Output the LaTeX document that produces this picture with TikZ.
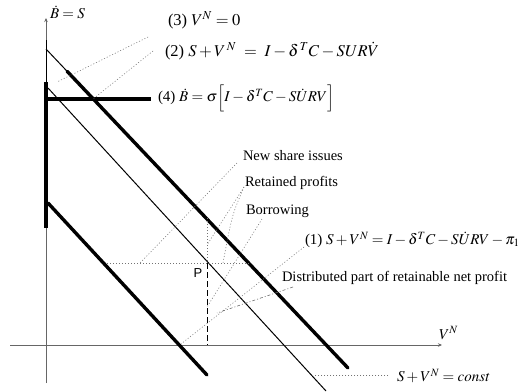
\documentclass[tikz,border=0pt]{standalone}
\usepackage{mathptmx}
\usepackage{fontspec}
\setmainfont{Liberation Serif}
\setsansfont{Liberation Sans}
\usetikzlibrary{arrows.meta,calc}
\begin{document}
\begin{tikzpicture}[x=1pt,y=-1pt,
  every node/.style={inner sep=0pt, outer sep=0pt, font=\fontsize{14.5}{17}\selectfont},
  eq/.style={anchor=west, font=\fontsize{15}{18}\selectfont},
  bigeq/.style={anchor=west, font=\fontsize{16.5}{19}\selectfont},
  axis/.style={draw=black!60, line width=0.7pt},
  axarrow/.style={-{Stealth[length=4pt,width=3.5pt]}},
  thickline/.style={line width=3.4pt},
  thinline/.style={line width=1pt},
  leader/.style={draw=black!55, line width=0.55pt, dash pattern=on 1pt off 2pt},
  dashdotleader/.style={draw=black!60, line width=0.55pt, dash pattern=on 3pt off 2pt on 1pt off 2pt},
  dashline/.style={draw=black, line width=0.7pt, dash pattern=on 6pt off 3pt},
  lbl/.style={anchor=west},
]
\useasboundingbox (0,0) rectangle (522,391);
\fill[white] (0,0) rectangle (522,391);

% axes
\coordinate (ybot) at (46,383);
\coordinate (ytop) at (46,18);
\coordinate (xleft) at (10,345);
\coordinate (xright) at (442,345);
\draw[axis,axarrow] (ybot) -- (ytop);
\draw[axis,axarrow] (xleft) -- (xright);

% line (3): V^N = 0
\coordinate (v1) at (46,40);
\coordinate (v2) at (46,82);
\coordinate (v3) at (46,228);
\draw[thinline] (v1) -- (v2);
\draw[thickline] (v2) -- (v3);

% line (4)
\coordinate (h1) at (46,99);
\coordinate (h2) at (151,99);
\draw[thickline] (h1) -- (h2);

% line (2)
\coordinate (a1) at (46,49);
\coordinate (a3) at (348,368);
\coordinate (a2) at ($(a1)!0.07!(a3)$);
\draw[thinline] (a1) -- (a2);
\draw[thickline,line cap=round] (a2) -- (a3);

% S+V^N = const line
\coordinate (c1) at (48,88);
\coordinate (c2) at (326,391);
\draw[thinline] (c1) -- (c2);

% line (1)
\coordinate (b1) at (48,203);
\coordinate (b2) at (207,375);
\draw[thickline,line cap=round] (b1) -- (b2);

% point P
\coordinate (P) at (207,263);
\coordinate (Pl) at (107,263);
\coordinate (Pr) at (249,263);
\coordinate (Pt) at (207,218);
\coordinate (Pb) at (207,345);
\draw[leader] (Pl) -- (Pr);
\draw[leader] (Pt) -- (P);
\draw[dashline] (P) -- (Pb);
\node[font=\sffamily\fontsize{13}{15}\selectfont] (Plab) at (198,273) {P};

% labels
\node[eq] (tB) at (50,12) {$\dot{B}=S$};
\node[bigeq] (t3) at (168,20) {(3) $V^{N}=0$};
\node[bigeq] (t2) at (165,51) {(2) $S+V^{\,N}\ =\ I-\delta^{\,T}C-SUR\dot{V}$};
\node[eq] (t4) at (158,98) {(4) $\dot{B}=\sigma\Bigl[I-\delta^{T}C-S\dot{U}RV\Bigr]$};
\node[lbl] (tnew) at (243,156) {New share issues};
\node[lbl] (tret) at (245,183) {Retained profits};
\node[lbl] (tbor) at (246,211) {Borrowing};
\node[eq] (t1) at (305,240) {(1) $S+V^{N}=I-\delta^{T}C-S\dot{U}RV-\pi_{1}$};
\node[lbl] (tdis) at (282,278) {Distributed part of retainable net profit};
\node[eq] (tvn) at (439,333) {$V^{N}$};
\node[eq] (tconst) at (397,376) {$S+V^{N}=\mathit{const}$};

% leaders
\coordinate (l3a) at (148,37);  \coordinate (l3b) at (57,82);
\draw[leader] (l3a) -- (l3b);
\coordinate (l2a) at (153,51);  \coordinate (l2b) at (93,99);
\draw[leader] (l2a) -- (l2b);
\coordinate (lna) at (237,163); \coordinate (lnb) at (140,263);
\draw[leader] (lna) -- (lnb);
\coordinate (lra) at (244,187); \coordinate (lrb) at (207,245); \coordinate (lrc) at (223,263);
\draw[leader] (lra) -- (lrb);
\draw[leader] (lra) .. controls (232,215) .. (lrc);
\coordinate (lba) at (262,219); \coordinate (lbb) at (207,307);
\draw[leader] (lba) -- (lbb);
\coordinate (l1a) at (304,247); \coordinate (l1b) at (181,344);
\draw[leader] (l1a) -- (l1b);
\coordinate (lda) at (293,287); \coordinate (ldb) at (217,313);
\draw[dashdotleader] (lda) -- (ldb);
\coordinate (lca) at (388,375); \coordinate (lcb) at (314,375);
\draw[leader] (lca) -- (lcb);
\end{tikzpicture}
\end{document}
